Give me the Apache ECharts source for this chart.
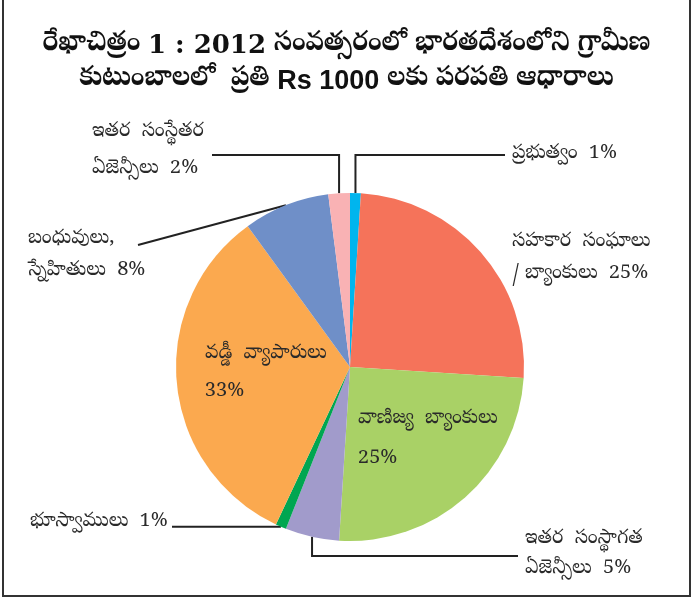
<!DOCTYPE html>
<html>
<head>
<meta charset="utf-8">
<script src="https://cdn.jsdelivr.net/npm/echarts@6/dist/echarts.min.js"></script>
<style>
  html, body { margin: 0; padding: 0; background: #fff; }
  #chart { width: 693px; height: 599px; }
</style>
</head>
<body>
<div id="chart"></div>
<script>
// sources of credit per Rs 1000, rural households, 2012 (clockwise from top)
const sources = [
  'ప్రభుత్వం',
  'సహకార  సంఘాలు\n/ బ్యాంకులు',
  'వాణిజ్య  బ్యాంకులు',
  'ఇతర  సంస్థాగత\nఏజెన్సీలు',
  'భూస్వాములు',
  'వడ్డీ  వ్యాపారులు',
  'బంధువులు,\nస్నేహితులు',
  'ఇతర  సంస్థేతర\nఏజెన్సీలు'
]
const shares = [1, 25, 25, 5, 1, 33, 8, 2]
const colors = ['#00B5EE', '#F5735A', '#A9D166', '#A19BCB', '#00A651', '#FBA94F', '#6F8FC8', '#F9B2B4']

const serif = '"Noto Serif Telugu", "Noto Sans Telugu", "Lohit Telugu", "DejaVu Serif", serif'
const LH = 32

// label anchors (left x, top y) and leader-line bends
const labelPos = [
  { x: 512, y: 155 - LH / 2, bend: s => [s, [s[0], 155], [505, 155]] },
  { x: 512, y: 243 - LH / 2 },
  { x: 358, y: 420 - 20, lh: 40 },
  { x: 525, y: 540 - 15, lh: 30, bend: s => [s, [s[0], 556], [518, 556]] },
  { x: 30, y: 523 - LH / 2, bend: s => [s, [172, s[1]]] },
  { x: 205, y: 355 - 19, lh: 38 },
  { x: 28, y: 240 - 16, lh: 32, bend: s => [s, [138, 245]] },
  { x: 92, y: 133 - 18, lh: 37, bend: s => [s, [s[0], 155], [212, 155]] }
]

const chart = echarts.init(document.getElementById('chart'), null, { renderer: 'canvas' })

chart.setOption({
  backgroundColor: '#fff',
  animation: false,
  title: {
    left: 'center',
    top: 24,
    text: '{t|రేఖాచిత్రం }{n|1 : 2012}{t| సంవత్సరంలో భారతదేశంలోని గ్రామీణ}\n{t|కుటుంబాలలో  ప్రతి }{r|Rs 1000}{t| లకు పరపతి ఆధారాలు}',
    textStyle: {
      rich: {
        t: { fontFamily: serif, fontSize: 27, fontWeight: 'bold', color: '#111', lineHeight: 35 },
        n: { fontFamily: '"DejaVu Serif", serif', fontSize: 26, fontWeight: 'bold', color: '#111', lineHeight: 35 },
        r: { fontFamily: '"Liberation Sans", Arial, sans-serif', fontSize: 27, fontWeight: 'bold', color: '#111', lineHeight: 35 }
      }
    }
  },
  graphic: [{
    type: 'rect',
    silent: true,
    shape: { x: 3, y: -4, width: 687, height: 600 },
    style: { fill: 'none', stroke: '#333', lineWidth: 2 }
  }],
  series: [{
    type: 'pie',
    center: [350, 367],
    radius: 174,
    startAngle: 90,
    clockwise: true,
    avoidLabelOverlap: false,
    data: sources.map((name, i) => ({
      name,
      value: shares[i],
      itemStyle: { color: colors[i] },
      labelLine: { show: !!labelPos[i].bend },
      label: labelPos[i].lh ? { lineHeight: labelPos[i].lh } : {}
    })),
    label: {
      show: true,
      position: 'outside',
      formatter: p => {
        const parts = p.name.split('\n')
        if (p.dataIndex === 2 || p.dataIndex === 5) return p.name + '\n' + p.value + '%'
        parts[parts.length - 1] += '  ' + p.value + '%'
        return parts.join('\n')
      },
      fontFamily: serif,
      fontSize: 20,
      color: '#2a2a2a',
      lineHeight: LH,
      align: 'left'
    },
    labelLine: {
      show: true,
      length: 20,
      length2: 20,
      lineStyle: { color: '#222', width: 2 }
    },
    labelLayout: params => {
      const pos = labelPos[params.dataIndex]
      const out = { x: pos.x, y: pos.y, align: 'left', verticalAlign: 'top' }
      if (pos.bend && params.labelLinePoints) {
        out.labelLinePoints = pos.bend(params.labelLinePoints[0])
      }
      return out
    }
  }]
})
</script>
</body>
</html>
